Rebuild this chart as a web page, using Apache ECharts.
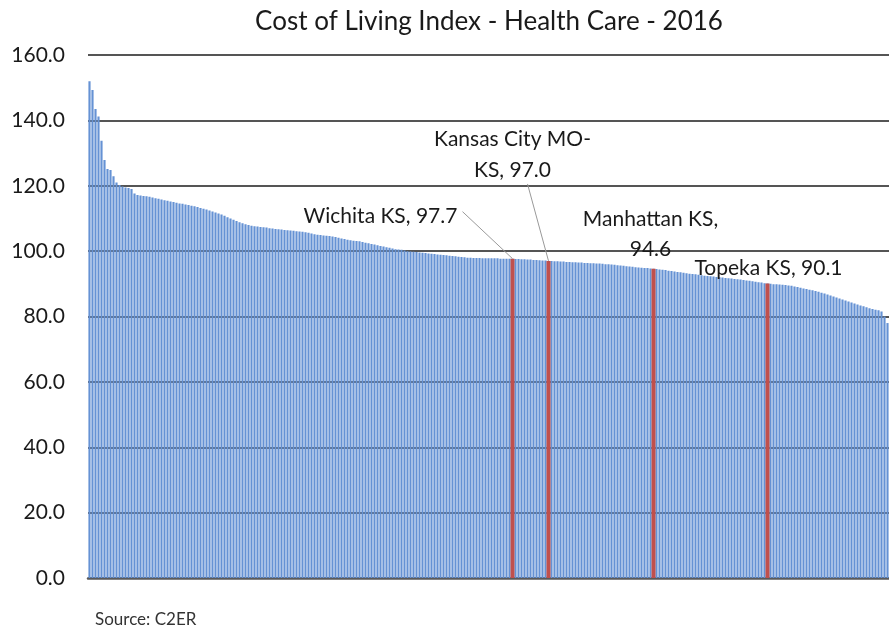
<!DOCTYPE html>
<html><head><meta charset="utf-8">
<script src="https://cdn.jsdelivr.net/npm/echarts@6/dist/echarts.min.js"></script>
<style>html,body{margin:0;padding:0;background:#fff}#c{width:889px;height:641px}</style>
</head><body><div id="c"></div>
<script>
const titleText = "Cost of Living Index - Health Care - 2016";
const sourceText = "Source: C2ER";
const yTicks = [0, 20, 40, 60, 80, 100, 120, 140, 160];
const values = [
152.0,149.3,143.5,141.2,133.8,127.9,125.1,124.8,122.9,121.0,120.2,119.8,119.5,
119.3,119.0,117.6,117.2,117.0,116.9,116.8,116.6,
116.4,116.2,116.0,115.8,115.6,115.4,115.2,115.0,114.8,114.6,114.5,114.3,114.1,113.9,113.7,113.5,113.2,113.0,112.7,112.4,
112.1,111.8,111.5,111.2,110.8,110.4,110.0,109.6,109.2,108.8,108.5,108.2,108.0,107.8,107.6,
107.5,107.4,107.3,107.2,107.0,106.9,106.8,106.7,106.6,106.5,106.4,106.3,106.2,106.1,106.0,105.9,105.8,105.6,105.4,105.2,
105.0,104.9,104.8,104.7,104.6,104.5,104.3,104.1,103.9,103.7,103.5,103.3,103.2,103.1,103.0,102.8,102.6,102.4,102.2,102.0,101.8,101.6,101.4,101.2,101.0,
100.8,100.6,100.5,100.4,100.2,100.0,99.9,99.8,99.7,99.6,99.5,99.4,99.3,99.2,99.1,99.0,98.9,98.8,98.7,98.6,98.5,98.4,98.3,98.2,98.1,
98.0,98.0,97.9,97.9,97.9,97.8,97.8,97.8,97.8,97.8,97.8,97.7,97.7,97.7,97.7,97.7,
97.6,97.6,97.5,97.5,97.4,97.4,97.3,97.3,97.2,97.1,97.1,97.0,
97.0,96.9,96.9,96.8,96.8,96.7,96.7,96.6,96.6,96.5,96.5,96.4,96.4,96.3,96.3,96.2,96.2,96.1,96.0,96.0,95.9,95.8,95.7,95.6,95.5,95.4,95.3,95.2,95.1,95.0,94.9,94.8,94.8,94.7,94.6,
94.5,94.4,94.3,94.2,94.0,93.9,93.8,93.6,93.5,93.4,93.2,93.1,93.0,92.9,92.8,92.6,92.5,92.4,92.3,92.2,92.1,92.0,91.9,91.8,91.7,91.6,91.5,91.4,91.3,91.2,91.0,90.9,90.8,90.6,90.5,90.4,90.2,90.1,
90.0,89.9,89.9,89.8,89.7,89.6,89.5,89.4,89.2,89.0,88.8,88.6,88.4,88.2,88.0,87.8,87.6,87.3,87.0,86.7,86.4,86.1,85.8,85.5,85.2,84.9,84.6,84.3,84.0,83.7,83.4,83.1,82.8,82.5,82.3,82.1,81.9,81.5,80.0,78.0
];
const highlightIdx = [141, 153, 188, 226];
const highlightLabels = ["Wichita KS, 97.7", "Kansas City MO-\nKS, 97.0", "Manhattan KS,\n94.6", "Topeka KS, 90.1"];
const categories = values.map((v, i) => "Area " + (i + 1));

const FONT = "Lato, 'Open Sans', sans-serif";
const chart = echarts.init(document.getElementById('c'), null, {renderer: 'canvas'});
const hlData = highlightIdx.map(i => [i, values[i]]);

chart.setOption({
  animation: false,
  title: {text: titleText, left: 484, top: 4, textAlign: 'center',
    textStyle: {fontFamily: FONT, fontWeight: 'normal', fontSize: 26, color: '#1a1a1a'}},
  grid: {left: 88, right: 0, top: 55, bottom: 63, containLabel: false},
  xAxis: {type: 'category', data: categories,
    axisLine: {lineStyle: {color: '#5a5a5a', width: 2.5}},
    axisTick: {show: false}, axisLabel: {show: false}},
  yAxis: {type: 'value', min: 0, max: 160, interval: 20,
    axisLine: {show: false}, axisTick: {show: false},
    axisLabel: {margin: 23, fontFamily: FONT, fontSize: 21, color: '#1a1a1a',
      formatter: v => v.toFixed(1)},
    splitLine: {lineStyle: {color: '#555', width: 2}}},
  series: [
    {type: 'bar', data: values, barCategoryGap: '28%', z: 3,
      itemStyle: {color: '#6592d4'}},
    {type: 'custom', data: hlData, z: 4,
      renderItem: function (params, api) {
        const top = api.coord([api.value(0), api.value(1)]);
        const base = api.coord([api.value(0), 0]);
        const w = 4;
        return {type: 'rect', shape: {x: top[0] - w / 2, y: top[1], width: w, height: base[1] - top[1]},
          style: {fill: '#c0504d'}};
      }}
  ],
  graphic: []
});

function px(i) { return chart.convertToPixel({xAxisIndex: 0, yAxisIndex: 0}, [i, values[i]]); }
const p = highlightIdx.map(px);
const tStyle = {fontFamily: FONT, fontSize: 21, fill: '#1a1a1a'};
const g = [];
// Wichita
g.push({type: 'text', z: 10, x: p[0][0] - 132, y: p[0][1] - 42,
  style: Object.assign({text: highlightLabels[0], align: 'center', verticalAlign: 'middle'}, tStyle)});
g.push({type: 'line', z: 9, shape: {x1: p[0][0] - 50, y1: p[0][1] - 47, x2: p[0][0], y2: p[0][1]},
  style: {stroke: '#999', lineWidth: 1}});
// Kansas City
g.push({type: 'text', z: 10, x: p[1][0] - 36, y: p[1][1] - 137,
  style: Object.assign({text: highlightLabels[1], align: 'center', lineHeight: 31}, tStyle)});
g.push({type: 'line', z: 9, shape: {x1: p[1][0] - 21, y1: p[1][1] - 77, x2: p[1][0], y2: p[1][1]},
  style: {stroke: '#999', lineWidth: 1}});
// Manhattan
g.push({type: 'text', z: 10, x: p[2][0] - 3, y: p[2][1] - 65,
  style: Object.assign({text: highlightLabels[2], align: 'center', lineHeight: 30}, tStyle)});
// Topeka
g.push({type: 'text', z: 10, x: p[3][0] + 1, y: p[3][1] - 26,
  style: Object.assign({text: highlightLabels[3], align: 'center'}, tStyle)});
g.push({type: 'text', left: 95, top: 611, z: 10,
  style: {text: sourceText, fontFamily: FONT, fontSize: 17, fill: '#333'}});
chart.setOption({graphic: g});
</script></body></html>
